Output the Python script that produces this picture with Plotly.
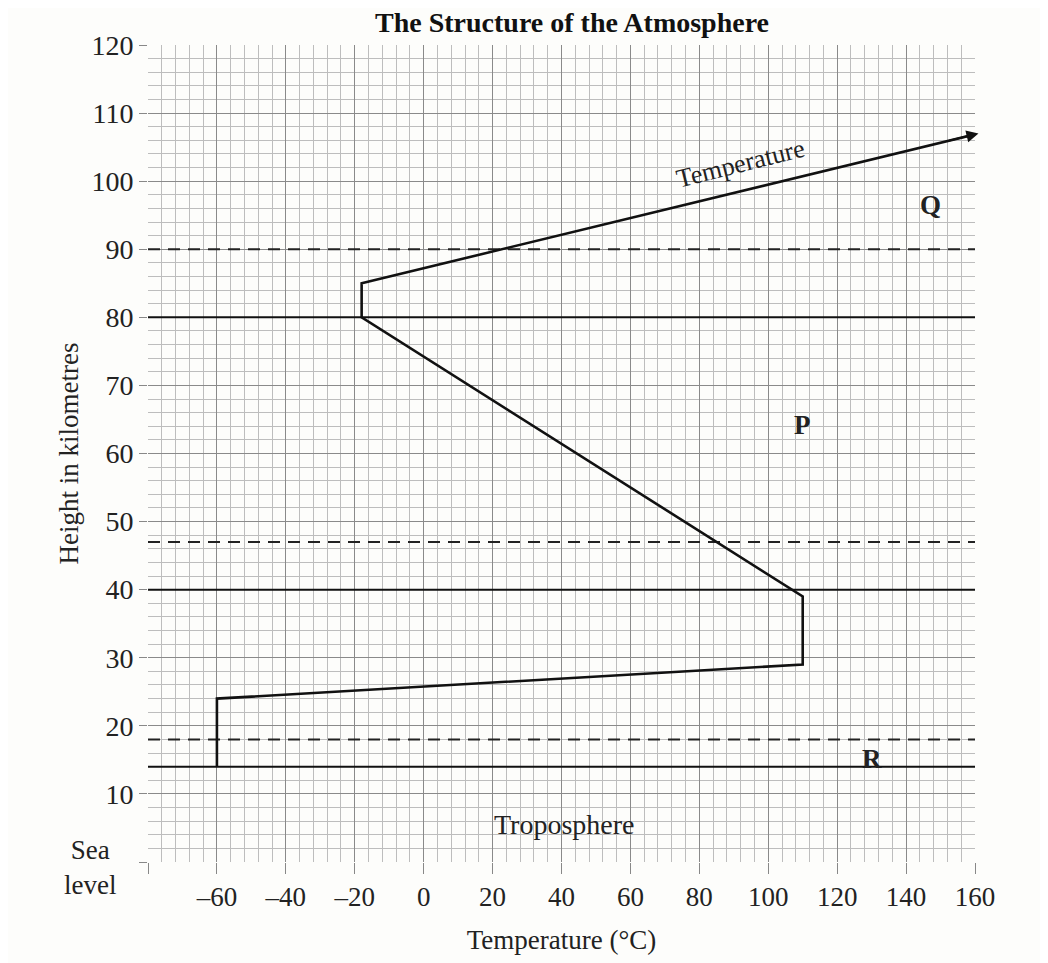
import plotly.graph_objects as go

# Temperature profile (°C, km)
temp_c = [-60, -60, 110, 110, -18, -18, 161]
height_km = [14, 24, 29, 39, 80, 85, 107]

# Layer boundaries
solid_levels = [14, 40, 80]
dashed_levels = [18, 47, 90]

x_ticks = [-80, -60, -40, -20, 0, 20, 40, 60, 80, 100, 120, 140, 160]
x_tick_text = ["", "–60", "–40", "–20", "0", "20", "40", "60", "80", "100", "120", "140", "160"]
y_ticks = [0, 10, 20, 30, 40, 50, 60, 70, 80, 90, 100, 110, 120]
y_tick_text = ["", "10", "20", "30", "40", "50", "60", "70", "80", "90", "100", "110", "120"]

region_labels = ["Q", "P", "R", "Troposphere"]
region_x = [147, 110, 130, 41]
region_y = [96.5, 64.2, 15.2, 5.5]
region_bold = [True, True, True, False]

XMIN, XMAX = -80, 160
FONT = "Liberation Serif, Times New Roman, serif"

fig = go.Figure()

for lv in solid_levels:
    fig.add_trace(go.Scatter(x=[XMIN, XMAX], y=[lv, lv], mode="lines",
                             line=dict(color="#111", width=2), hoverinfo="skip", showlegend=False))
for lv in dashed_levels:
    fig.add_trace(go.Scatter(x=[XMIN, XMAX], y=[lv, lv], mode="lines",
                             line=dict(color="#222", width=2, dash="12px,8px"), hoverinfo="skip", showlegend=False))

fig.add_trace(go.Scatter(x=temp_c, y=height_km, mode="lines", cliponaxis=False,
                         line=dict(color="#111", width=2.6), showlegend=False))

# arrow head at end of temperature line
fig.add_annotation(x=temp_c[-1], y=height_km[-1], ax=temp_c[-2] + (temp_c[-1] - temp_c[-2]) * 0.95,
                   ay=height_km[-2] + (height_km[-1] - height_km[-2]) * 0.95,
                   xref="x", yref="y", axref="x", ayref="y", text="", showarrow=True,
                   arrowhead=2, arrowsize=1.2, arrowwidth=2, arrowcolor="#111")

# "Temperature" label along the arrow
fig.add_annotation(x=92, y=102.6, text="Temperature", showarrow=False, textangle=-14,
                   font=dict(family=FONT, size=26, color="#222"))

for t, xx, yy, b in zip(region_labels, region_x, region_y, region_bold):
    fig.add_annotation(x=xx, y=yy, text=f"<b>{t}</b>" if b else t, showarrow=False,
                       font=dict(family=FONT, size=27 if b else 28, color="#222"))

fig.add_annotation(xref="paper", yref="paper", x=0.5 + 10 / 825, y=1, yshift=23, yanchor="middle",
                   text="<b>The Structure of the Atmosphere</b>", showarrow=False,
                   font=dict(family=FONT, size=28, color="#111"))
fig.add_annotation(xref="paper", yref="y", x=0, y=0, xshift=-58, yshift=-5, xanchor="center",
                   yanchor="middle", text="Sea<br>level",
                   showarrow=False, align="center", font=dict(family=FONT, size=27, color="#222"))

fig.update_layout(
    width=1040, height=955,
    margin=dict(l=140, r=73, t=37, b=101),
    paper_bgcolor="#fdfdfb", plot_bgcolor="#fdfdfb",
    font=dict(family=FONT, size=27, color="#222"),
    xaxis=dict(range=[XMIN, XMAX], tickmode="array", tickvals=x_ticks, ticktext=x_tick_text,
               ticks="outside", ticklen=11, tickcolor="#888", tickwidth=1.2,
               showgrid=True, gridcolor="#8a8a8a", gridwidth=1.2,
               minor=dict(dtick=4, tick0=-80, showgrid=True, gridcolor="#bdbdbd", gridwidth=0.8),
               showline=False, zeroline=False,
               title=dict(text="Temperature (°C)", font=dict(size=27), standoff=18),
               tickfont=dict(size=27)),
    yaxis=dict(range=[0, 120], tickmode="array", tickvals=y_ticks, ticktext=y_tick_text,
               ticks="outside", ticklen=8, tickcolor="#888", tickwidth=1.2,
               showgrid=True, gridcolor="#8a8a8a", gridwidth=1.2,
               minor=dict(dtick=2, tick0=0, showgrid=True, gridcolor="#bdbdbd", gridwidth=0.8),
               showline=False, zeroline=False,
               title=dict(text="Height in kilometres", font=dict(size=27), standoff=4),
               tickfont=dict(size=28)),
)

fig.write_html("out.html")
